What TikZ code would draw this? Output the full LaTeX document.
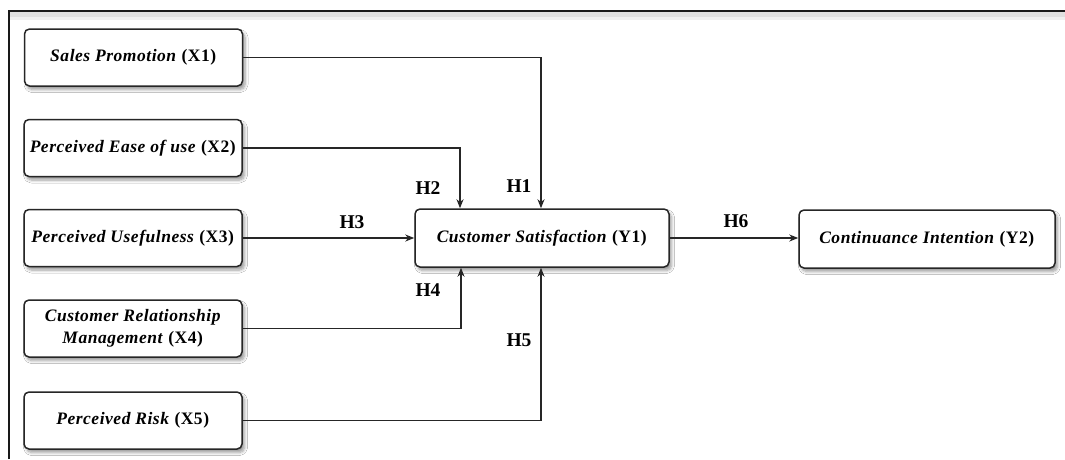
\documentclass[tikz,border=0pt]{standalone}
\usepackage{fontspec}
\setmainfont{Liberation Serif}
\newfontfamily\boxfont{Liberation Serif}[LetterSpace=3]
\usetikzlibrary{arrows.meta,shadows.blur,calc}
\begin{document}
\begin{tikzpicture}[x=1pt,y=-1pt,
  box/.style={draw=black!85,line width=1.5pt,rounded corners=5pt,fill=white,
    minimum width=218pt,minimum height=57pt,align=center,inner sep=2pt,
    font=\boxfont\fontsize{17.5}{22}\selectfont,
    blur shadow={shadow xshift=2.5pt,shadow yshift=-3.5pt,shadow blur steps=6,shadow blur radius=3pt,shadow opacity=40}},
  conn/.style={draw=black!85,line width=1.6pt,-{Stealth[length=9pt,width=7pt]}},
  hlab/.style={font=\fontsize{19.5}{22}\selectfont\bfseries,inner sep=0pt}]
\useasboundingbox (0,0) rectangle (1065,459);
\fill[white] (0,0) rectangle (1065,459);
% frame
\fill[black!12] (10,12) rectangle (1065,17);
\fill[black!6] (10,17) rectangle (1065,20);
\draw[line width=2pt,black!90] (9,459) -- (9,11) -- (1065,11);
% nodes
\node[box] (X1) at (133.5,57.5) {\textbf{\textit{Sales Promotion}} \textbf{(X1)}};
\node[box] (X2) at (133,148) {\textbf{\textit{Perceived Ease of use}} \textbf{(X2)}};
\node[box] (X3) at (133,238) {\textbf{\textit{Perceived Usefulness}} \textbf{(X3)}};
\node[box] (X4) at (133,328.5) {\textbf{\textit{Customer Relationship}}\\\textbf{\textit{Management}} \textbf{(X4)}};
\node[box] (X5) at (133,420.5) {\textbf{\textit{Perceived Risk}} \textbf{(X5)}};
\node[box,minimum width=254pt,minimum height=58pt] (Y1) at (542,238) {\textbf{\textit{Customer Satisfaction}} \textbf{(Y1)}};
\node[box,minimum width=256pt,minimum height=58pt] (Y2) at (927,239) {\textbf{\textit{Continuance Intention}} \textbf{(Y2)}};
% connectors
\draw[conn] (X1.east) -| ([xshift=-1pt]Y1.north);
\draw[conn] (X2.east) -| ([xshift=-82pt]Y1.north);
\draw[conn] (X3.east) -- (Y1.west);
\draw[conn] (X4.east) -| ([xshift=-81pt]Y1.south);
\draw[conn] (X5.east) -| ([xshift=-1pt]Y1.south);
\draw[conn] (Y1.east) -- (Y2.west|-Y1.east);
% labels
\node[hlab] (H1) at (519,186) {H1};
\node[hlab] (H2) at (428,188) {H2};
\node[hlab] (H3) at (352,222) {H3};
\node[hlab] (H4) at (428,290) {H4};
\node[hlab] (H5) at (519,340) {H5};
\node[hlab] (H6) at (736,221) {H6};
\end{tikzpicture}
\end{document}
